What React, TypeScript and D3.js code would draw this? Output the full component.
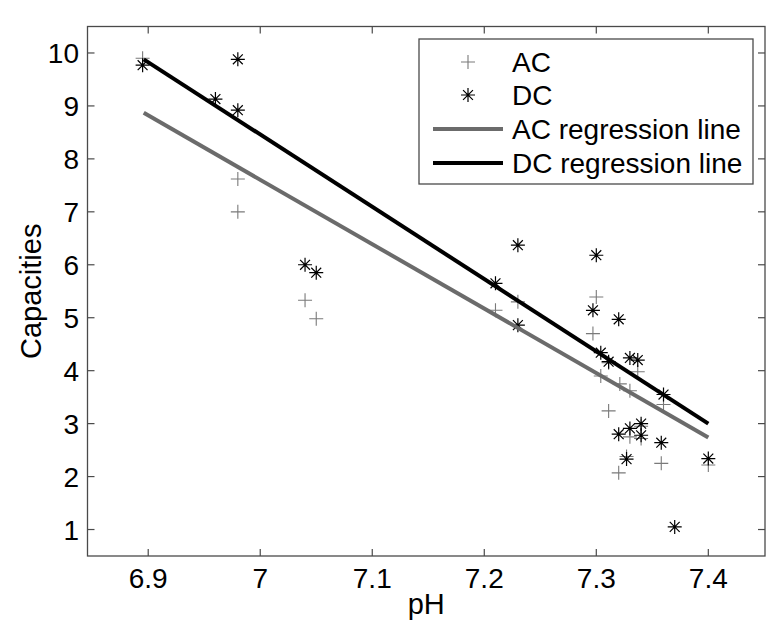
import React from "react";
import * as d3 from "d3";

// AC capacities (pH, value)
const acPH = [6.895, 6.98, 6.98, 7.04, 7.05, 7.21, 7.23, 7.30, 7.297, 7.304, 7.337, 7.321, 7.33, 7.36, 7.311, 7.33, 7.34, 7.34, 7.358, 7.32, 7.40, 7.327, 7.311];
const acVal = [9.9, 7.62, 7.0, 5.33, 4.98, 5.14, 5.3, 5.39, 4.70, 3.90, 3.98, 3.75, 3.62, 3.36, 3.24, 2.75, 2.72, 2.95, 2.25, 2.07, 2.22, 2.38, 4.15];
// DC capacities (pH, value)
const dcPH = [6.895, 6.98, 6.96, 6.98, 7.04, 7.05, 7.21, 7.23, 7.23, 7.30, 7.297, 7.32, 7.304, 7.311, 7.33, 7.337, 7.36, 7.34, 7.33, 7.32, 7.34, 7.358, 7.327, 7.40, 7.37];
const dcVal = [9.77, 9.88, 9.13, 8.92, 6.0, 5.85, 5.65, 6.37, 4.86, 6.18, 5.14, 4.97, 4.34, 4.17, 4.24, 4.20, 3.55, 3.0, 2.91, 2.80, 2.78, 2.64, 2.33, 2.34, 1.05];
// regression lines endpoints
const acLinePH = [6.896, 7.4];
const acLineVal = [8.87, 2.74];
const dcLinePH = [6.896, 7.4];
const dcLineVal = [9.88, 3.0];

const xTicks = [6.9, 7.0, 7.1, 7.2, 7.3, 7.4];
const xTickLabels = ["6.9", "7", "7.1", "7.2", "7.3", "7.4"];
const yTicks = [1, 2, 3, 4, 5, 6, 7, 8, 9, 10];
const legendLabels = ["AC", "DC", "AC regression line", "DC regression line"];

const FONT = "'Liberation Sans', Arial, Helvetica, sans-serif";
const AC_COLOR = "#7a7a7a";
const AC_LINE = "#6b6b6b";
const FRAME = "#4a4a4a";

const L = 87.5, R = 765, T = 26.5, B = 556;

function starPath(r: number) {
  const d = r * 0.707;
  return `M0,${-r}L0,${r}M${-r},0L${r},0M${-d},${-d}L${d},${d}M${-d},${d}L${d},${-d}`;
}
function plusPath(r: number) {
  return `M${-r},0L${r},0M0,${-r}L0,${r}`;
}

export default function App() {
  const x = d3.scaleLinear().domain([6.8458, 7.4506]).range([L, R]);
  const y = d3.scaleLinear().domain([0.5, 10.5]).range([B, T]);
  const line = d3.line<[number, number]>().x((d) => x(d[0])).y((d) => y(d[1]));
  const acLine = acLinePH.map((p, i) => [p, acLineVal[i]] as [number, number]);
  const dcLine = dcLinePH.map((p, i) => [p, dcLineVal[i]] as [number, number]);
  const tickLen = 7;
  const legX = 419, legY = 39, legW = 334, legH = 145;
  const rowY = [62, 95, 129, 163];
  const mr = 7;

  return (
    <svg width={782} height={633} style={{ position: "absolute", left: 0, top: 0, background: "#fff" }} fontFamily={FONT}>
      <rect x={0} y={0} width={782} height={633} fill="#fff" />
      {/* ticks */}
      {xTicks.map((t) => (
        <g key={"xt" + t}>
          <line x1={x(t)} x2={x(t)} y1={B} y2={B - tickLen} stroke={FRAME} strokeWidth={1.2} />
          <line x1={x(t)} x2={x(t)} y1={T} y2={T + tickLen} stroke={FRAME} strokeWidth={1.2} />
        </g>
      ))}
      {yTicks.map((t) => (
        <g key={"yt" + t}>
          <line x1={L} x2={L + tickLen} y1={y(t)} y2={y(t)} stroke={FRAME} strokeWidth={1.2} />
          <line x1={R} x2={R - tickLen} y1={y(t)} y2={y(t)} stroke={FRAME} strokeWidth={1.2} />
        </g>
      ))}
      {xTicks.map((t, i) => (
        <text key={"xl" + t} x={x(t)} y={588} textAnchor="middle" fontSize={28} fill="#000">
          {xTickLabels[i]}
        </text>
      ))}
      {yTicks.map((t) => (
        <text key={"yl" + t} x={79} y={y(t)} dy="0.36em" textAnchor="end" fontSize={28} fill="#000">
          {t}
        </text>
      ))}
      <text x={(L + R) / 2} y={614} textAnchor="middle" fontSize={29} fill="#000">pH</text>
      <text transform={`translate(41,${(T + B) / 2}) rotate(-90)`} textAnchor="middle" fontSize={29} fill="#000">
        Capacities
      </text>
      {/* points */}
      {acPH.map((p, i) => (
        <path key={"ac" + i} d={plusPath(mr)} transform={`translate(${x(p)},${y(acVal[i])})`} stroke={AC_COLOR} strokeWidth={1.1} fill="none" />
      ))}
      {dcPH.map((p, i) => (
        <path key={"dc" + i} d={starPath(mr)} transform={`translate(${x(p)},${y(dcVal[i])})`} stroke="#000" strokeWidth={1.2} fill="none" />
      ))}
      {/* regression lines */}
      <path d={line(acLine) || ""} stroke={AC_LINE} strokeWidth={4} fill="none" />
      <path d={line(dcLine) || ""} stroke="#000" strokeWidth={4} fill="none" />
      {/* frame */}
      <rect x={L} y={T} width={R - L} height={B - T} fill="none" stroke={FRAME} strokeWidth={1.3} />
      {/* legend */}
      <rect x={legX} y={legY} width={legW} height={legH} fill="#fff" stroke={FRAME} strokeWidth={1.3} />
      <path d={plusPath(mr)} transform={`translate(468,${rowY[0]})`} stroke={AC_COLOR} strokeWidth={1.1} fill="none" />
      <path d={starPath(mr)} transform={`translate(468,${rowY[1]})`} stroke="#000" strokeWidth={1.2} fill="none" />
      <line x1={433} x2={503} y1={rowY[2]} y2={rowY[2]} stroke={AC_LINE} strokeWidth={4} />
      <line x1={433} x2={503} y1={rowY[3]} y2={rowY[3]} stroke="#000" strokeWidth={4} />
      {legendLabels.map((lab, i) => (
        <text key={lab} x={512} y={rowY[i]} dy="0.36em" fontSize={28} fill="#000">
          {lab}
        </text>
      ))}
    </svg>
  );
}
